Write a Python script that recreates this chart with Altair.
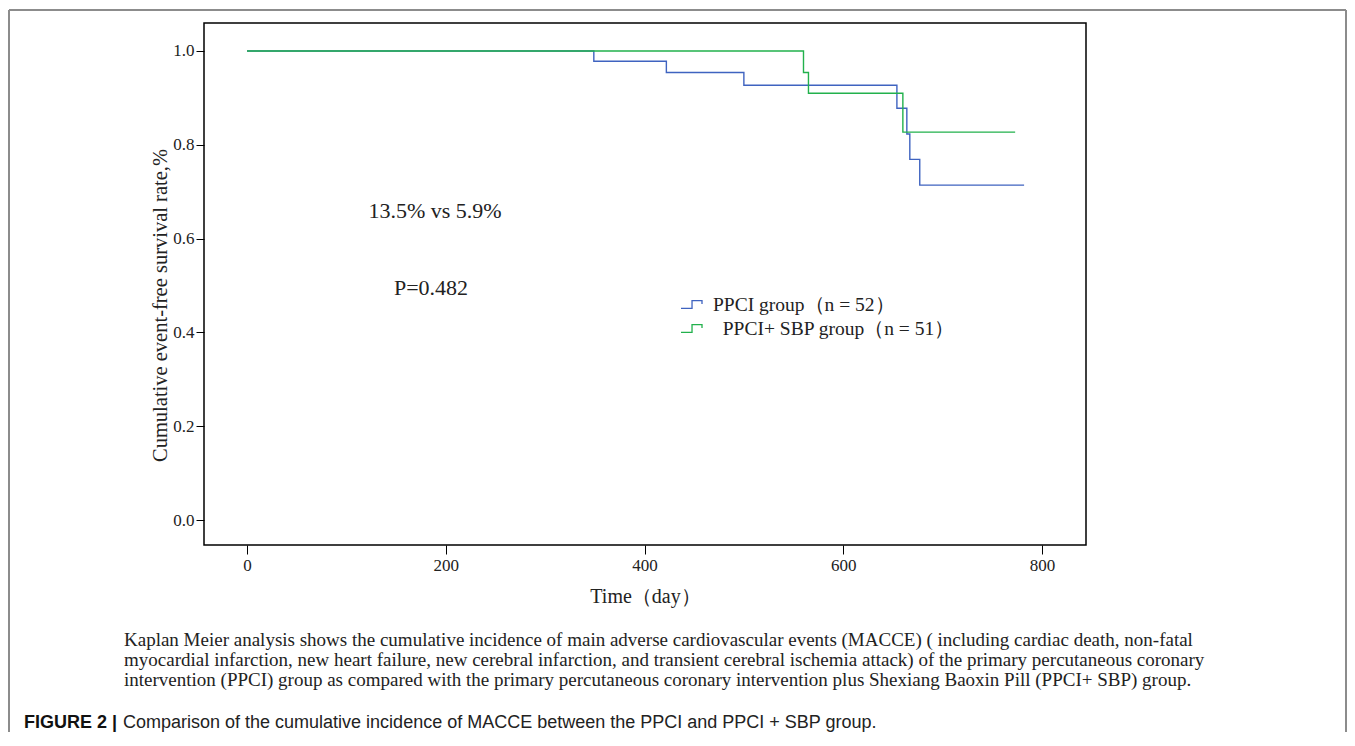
import altair as alt
import pandas as pd

# ---------------- data ----------------
ppci_days = [0, 349, 422, 500, 654, 664, 667, 677, 782]
ppci_surv = [1.0, 0.978, 0.954, 0.927, 0.878, 0.823, 0.769, 0.714, 0.714]
sbp_days = [0, 560, 565, 660, 773]
sbp_surv = [1.0, 0.954, 0.910, 0.827, 0.827]
groups = ["PPCI group\uff08n = 52\uff09", "\u200b\u2002PPCI+ SBP group\uff08n = 51\uff09"]
colors = ["#3f63c0", "#22b14c"]
x_ticks = [0, 200, 400, 600, 800]
y_ticks = [0.0, 0.2, 0.4, 0.6, 0.8, 1.0]
annot_rate = "13.5% vs 5.9%"
annot_p = "P=0.482"
x_title = "Time\uff08day\uff09"
y_title = "Cumulative event-free survival rate,%"
caption_lines = [
    "Kaplan Meier analysis shows  the cumulative incidence of main adverse cardiovascular events (MACCE) ( including cardiac death, non-fatal",
    "myocardial infarction, new heart failure, new cerebral infarction, and transient cerebral ischemia attack) of the primary percutaneous coronary",
    "intervention (PPCI) group as compared with the primary percutaneous coronary intervention plus Shexiang Baoxin Pill (PPCI+ SBP) group.",
]
fig_label = "FIGURE 2 |"
fig_title = "Comparison of the cumulative incidence of MACCE between the PPCI and PPCI + SBP group."

rows = []
for d, s in zip(ppci_days, ppci_surv):
    rows.append({"day": d, "surv": s, "group": groups[0]})
for d, s in zip(sbp_days, sbp_surv):
    rows.append({"day": d, "surv": s, "group": groups[1]})
df = pd.DataFrame(rows)

# ---------------- layout ----------------
W, H = 882, 522
PAD_L, PAD_T = 196, 15
TOTAL_W, TOTAL_H = 1339, 724
PAD_R = TOTAL_W - PAD_L - W
PAD_B = TOTAL_H - PAD_T - H

SERIF = "Liberation Serif"
TXT = "#222222"

one = pd.DataFrame({"k": [0]})

lines = alt.Chart(df).mark_line(interpolate="step-after", strokeWidth=1.4).encode(
    x=alt.X("day:Q",
            scale=alt.Scale(domain=[-43.3, 844.3], nice=False, zero=False),
            axis=alt.Axis(values=x_ticks, format="d", grid=False, domain=False,
                          tickSize=9, tickColor="#000", tickWidth=1,
                          labelFont=SERIF, labelFontSize=17, labelColor=TXT,
                          labelPadding=3, title=x_title, titleFont=SERIF,
                          titleFontSize=20, titleFontWeight="normal", titleColor=TXT,
                          titleY=51, titleBaseline="middle")),
    y=alt.Y("surv:Q",
            scale=alt.Scale(domain=[-0.0533, 1.0597], nice=False, zero=False),
            axis=alt.Axis(values=y_ticks, format=".1f", grid=False, domain=False,
                          tickSize=8, tickColor="#000", tickWidth=1,
                          labelFont=SERIF, labelFontSize=17, labelColor=TXT,
                          labelPadding=2, title=y_title, titleFont=SERIF,
                          titleFontSize=20.5, titleFontWeight="normal", titleColor=TXT,
                          titleX=-44, titleY=282, titleAngle=270,
                          titleAlign="center", titleBaseline="middle")),
    color=alt.Color("group:N",
                    scale=alt.Scale(domain=groups, range=colors),
                    legend=alt.Legend(title=None, orient="none", legendX=476, legendY=270,
                                      symbolType="M-1,0.37 L0.05,0.37 L0.05,-0.37 L1,-0.37 L1,-0.05",
                                      symbolSize=441, symbolStrokeWidth=1.3,
                                      symbolFillColor="transparent",
                                      labelFont=SERIF, labelFontSize=19.5, labelColor=TXT,
                                      labelLimit=600, labelOffset=10, rowPadding=3,
                                      padding=0)),
    detail="group:N",
)

t_rate = alt.Chart(one).mark_text(font=SERIF, fontSize=22, color=TXT, align="center",
                                   baseline="middle", text=annot_rate).encode(
    x=alt.value(231), y=alt.value(188))
t_p = alt.Chart(one).mark_text(font=SERIF, fontSize=22, color=TXT, align="center",
                                baseline="middle", text=annot_p).encode(
    x=alt.value(227), y=alt.value(265))

cap_layers = []
for line, yy in zip(caption_lines, [617, 637, 657]):
    cap_layers.append(
        alt.Chart(one).mark_text(font=SERIF, fontSize=19, color=TXT, align="left",
                                 baseline="middle", text=line, limit=1300).encode(
            x=alt.value(-80), y=alt.value(yy)))

fig_a = alt.Chart(one).mark_text(font="Liberation Sans", fontSize=18, fontWeight="bold",
                                 color="#111", align="left", baseline="middle",
                                 text=fig_label).encode(x=alt.value(-180), y=alt.value(700))
fig_b = alt.Chart(one).mark_text(font="Liberation Sans", fontSize=18, color="#222",
                                 align="left", baseline="middle",
                                 text=fig_title).encode(x=alt.value(-81), y=alt.value(700))

BORDER = "#8c8c8c"
b_top = alt.Chart(one).mark_rule(color=BORDER, strokeWidth=2).encode(
    x=alt.value(-195), x2=alt.value(1142), y=alt.value(-13))
b_left = alt.Chart(one).mark_rule(color=BORDER, strokeWidth=2).encode(
    x=alt.value(-195), y=alt.value(-13), y2=alt.value(TOTAL_H - PAD_T))
b_right = alt.Chart(one).mark_rule(color=BORDER, strokeWidth=2).encode(
    x=alt.value(1142), y=alt.value(-13), y2=alt.value(TOTAL_H - PAD_T))

chart = alt.layer(
    b_top, b_left, b_right, lines, t_rate, t_p, *cap_layers, fig_a, fig_b
).properties(
    width=W, height=H,
    padding={"left": PAD_L, "top": PAD_T, "right": PAD_R, "bottom": PAD_B},
    autosize=alt.AutoSizeParams(type="none"),
    background="white",
).configure_view(
    stroke="#000", strokeWidth=1.5
)

chart.save("out.html", embed_options={"renderer": "svg", "actions": False})
